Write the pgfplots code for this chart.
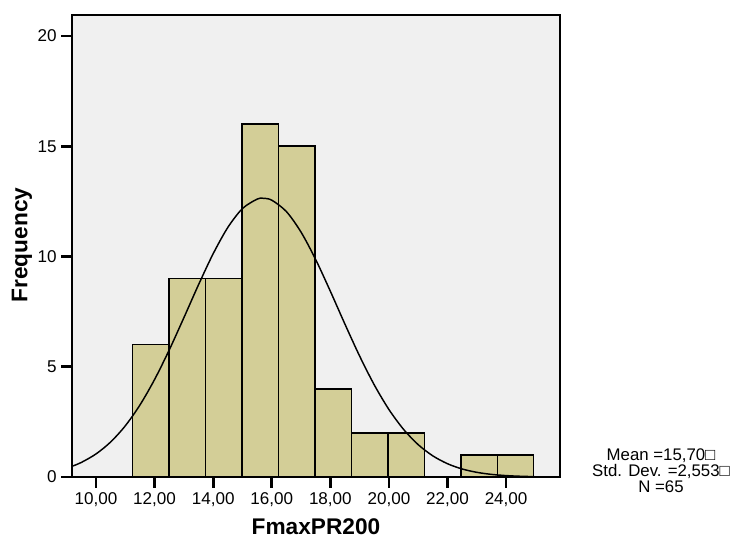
\documentclass[border=0pt]{standalone}
\usepackage{fontspec}
\setmainfont{Liberation Sans}
\usepackage{pgfplots}
\pgfplotsset{compat=1.18}
\definecolor{plotbg}{RGB}{240,240,240}
\definecolor{barfill}{RGB}{211,206,151}
\begin{document}
\begin{tikzpicture}[x=1pt,y=1pt]
\useasboundingbox (-54pt,-47.25pt) rectangle (498.75pt,357.75pt);
\begin{axis}[
  at={(0pt,0pt)}, anchor=south west,
  scale only axis,
  width=366pt, height=346.5pt,
  xmin=9.18, xmax=25.84, ymin=0, ymax=20.95,
  axis background/.style={fill=plotbg},
  axis line style={line width=1pt, black},
  tick pos=left,
  tick align=outside,
  major tick length=8pt,
  tick style={line width=2pt, black},
  xtick={10,12,14,16,18,20,22,24},
  ytick={0,5,10,15,20},
  /pgf/number format/assume math mode=true,
  xticklabel style={/pgf/number format/.cd, fixed, fixed zerofill, precision=2, use comma},
  yticklabel style={/pgf/number format/.cd, fixed, precision=0},
  ticklabel style={font=\fontsize{12.8}{15}\selectfont},
  xlabel={FmaxPR200},
  ylabel={Frequency},
  xlabel style={font=\bfseries\fontsize{17}{20}\selectfont, at={(axis description cs:0.5,-0.108)}, anchor=center},
  ylabel style={font=\bfseries\fontsize{17}{20}\selectfont, at={(axis description cs:-0.1025,0.502)}, anchor=center},
  clip=false,
]
\addplot[ybar interval, fill=barfill, draw=black, line width=1.2pt] coordinates {
  (11.25,6) (12.49,9) (13.74,9) (14.98,16) (16.23,15) (17.47,4)
  (18.72,2) (19.96,2) (21.21,0) (22.45,1) (23.70,1) (24.94,1)
};
\addplot[smooth, black, line width=1.1pt] coordinates {
  (9.18,0.485) (9.5,0.662) (10,1.046) (10.5,1.589) (11,2.322) (11.5,3.266)
  (12,4.423) (12.5,5.763) (13,7.226) (13.5,8.720) (14,10.127) (14.5,11.318)
  (15,12.174) (15.5,12.601) (15.7,12.64) (16,12.553) (16.5,12.035) (17,11.103)
  (17.5,9.859) (18,8.423) (18.5,6.926) (19,5.482) (19.5,4.175) (20,3.060)
  (20.5,2.159) (21,1.465) (21.5,0.957) (22,0.602) (22.5,0.364) (23,0.212)
  (23.5,0.119) (24,0.064) (24.5,0.033) (24.96,0.017)
};
\node[align=center, font=\fontsize{12.6}{12.2}\selectfont, anchor=center]
  at (rel axis cs:1.207,0.014) {Mean =15,70□\\Std. Dev. =2,553□\\N =65};
\end{axis}
\end{tikzpicture}
\end{document}
